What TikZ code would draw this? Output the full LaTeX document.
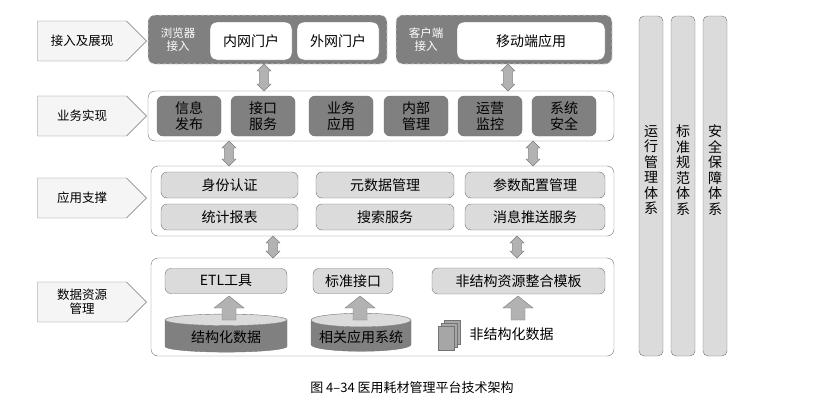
\documentclass[tikz,border=0pt]{standalone}
\usepackage{fontspec}
\setmainfont{Noto Sans CJK SC}
\newfontfamily\capfont{Noto Sans CJK SC}
\usetikzlibrary{shapes.arrows,shapes.geometric,shapes.symbols}
\definecolor{dk}{gray}{0.5}
\definecolor{lt}{gray}{0.86}
\definecolor{ar}{gray}{0.7}
\definecolor{ln}{gray}{0.45}
\tikzset{
 lab/.style={signal, signal to=east, draw=ln, fill=gray!8, minimum width=109pt, minimum height=40pt, font=\fontsize{12.5}{14}\selectfont, inner sep=1pt},
 cont/.style={draw=ln, rounded corners=7pt, fill=white},
 grp/.style={draw=gray!30, dashed, line width=0.8pt, rounded corners=7pt, fill=dk},
 wbox/.style={draw=ln, rounded corners=7pt, fill=white, font=\fontsize{14}{15}\selectfont},
 dbox/.style={draw=ln, rounded corners=6pt, fill=dk, font=\fontsize{14}{16}\selectfont, align=center},
 lbox/.style={draw=ln, rounded corners=6pt, fill=lt, font=\fontsize{14}{15}\selectfont},
 darr/.style={double arrow, fill=ar, draw=ar!70!black, minimum width=14pt, double arrow head extend=1pt, inner sep=1.5pt, rotate=90, minimum height=#1},
 bar/.style={draw=ln, rounded corners=5pt, fill=lt},
 cyl/.style={cylinder, shape border rotate=90, draw=ln, cylinder uses custom fill, cylinder body fill=dk, cylinder end fill=lt, aspect=0.15, font=\fontsize{14}{15}\selectfont},
}
\newcommand{\uparrowat}[2]{%
 \fill[ar, draw=ar!70!black] (#1-7,#2+12) -- (#1-7,#2) -- (#1-15,#2) -- (#1,#2-12) -- (#1+15,#2) -- (#1+7,#2) -- (#1+7,#2+12) -- cycle;}
\begin{document}
\begin{tikzpicture}[x=1pt,y=-1pt]
\useasboundingbox (0,0) rectangle (824,410);
% left labels
\node[lab] (l1) at (82,41) {接入及展现};
\node[lab] (l2) at (82,116) {业务实现};
\node[lab] (l3) at (82,198) {应用支撑};
\node[lab, align=center] (l4) at (82,302) {数据资源\\管理};
% row 1
\draw[grp] (148,15) rectangle (387,64);
\draw[grp] (396,15) rectangle (612,64);
\node[font=\fontsize{11.5}{13}\selectfont, align=center, text=white] (t1) at (178,40) {浏览器\\接入};
\node[font=\fontsize{11.5}{13}\selectfont, align=center, text=white] (t2) at (426,40) {客户端\\接入};
\node[wbox, minimum width=82pt, minimum height=38pt] (nw) at (251,41) {内网门户};
\node[wbox, minimum width=82pt, minimum height=38pt] (ww) at (338,41) {外网门户};
\node[wbox, minimum width=148pt, minimum height=38pt] (yd) at (531,41) {移动端应用};
% row 2
\node[cont, minimum width=466pt, minimum height=50pt] (c2) at (381,116) {};
\foreach \x/\t [count=\i] in {189/信息\\发布,263/接口\\服务,341/业务\\应用,416/内部\\管理,490/运营\\监控,564/系统\\安全}
  \node[dbox, minimum width=64pt, minimum height=40pt] (b\i) at (\x,116) {\t};
% row 3
\node[cont, minimum width=463pt, minimum height=70pt] (c3) at (382.5,201) {};
\node[lbox, minimum width=137pt, minimum height=26pt] (s1) at (229.5,185) {身份认证};
\node[lbox, minimum width=138pt, minimum height=26pt] (s2) at (385,185) {元数据管理};
\node[lbox, minimum width=140pt, minimum height=26pt] (s3) at (535,185) {参数配置管理};
\node[lbox, minimum width=137pt, minimum height=26pt] (s4) at (229.5,217) {统计报表};
\node[lbox, minimum width=138pt, minimum height=26pt] (s5) at (385,217) {搜索服务};
\node[lbox, minimum width=140pt, minimum height=26pt] (s6) at (535,217) {消息推送服务};
% row 4
\node[cont, minimum width=463pt, minimum height=98pt] (c4) at (382.5,307) {};
\node[lbox, minimum width=122pt, minimum height=25pt] (e1) at (226,281) {ETL工具};
\node[lbox, minimum width=80pt, minimum height=25pt] (e2) at (353,281) {标准接口};
\node[lbox, minimum width=173pt, minimum height=26pt] (e3) at (518.5,281) {非结构资源整合模板};
\node[cyl, minimum width=122pt, minimum height=38pt] (d1) at (226,337) {\raisebox{-4pt}{结构化数据}};
\node[cyl, minimum width=100pt, minimum height=38pt] (d2) at (361,337) {\raisebox{-4pt}{相关应用系统}};
\uparrowat{229}{308}
\uparrowat{360}{308}
\uparrowat{518}{308}
\foreach \o in {6,3,0} \draw[draw=ln, fill=dk!70!white] (438+\o,326-\o) rectangle (454+\o,350-\o);
\node[font=\fontsize{14}{15}\selectfont, anchor=west] (e4) at (466,334) {非结构化数据};
% double arrows
\node[darr=27pt] (a1) at (264,77.5) {};
\node[darr=27pt] (a2) at (508,77.5) {};
\node[darr=25pt] (a3) at (229,153.5) {};
\node[darr=25pt] (a4) at (533,153.5) {};
\node[darr=22pt] (a5) at (273,247) {};
\node[darr=22pt] (a6) at (517,247) {};
% vertical bars
\foreach \x/\t [count=\i] in {651/运\\行\\管\\理\\体\\系,683/标\\准\\规\\范\\体\\系,715/安\\全\\保\\障\\体\\系}{
  \node[bar, minimum width=24pt, minimum height=340pt] (v\i) at (\x,186) {};
  \node[align=center, font=\fontsize{14}{15.5}\selectfont] (vt\i) at (\x,170) {\t};
}
% caption
\node[font=\capfont\fontsize{13}{14}\selectfont] (cap) at (412,388) {图 4–34 医用耗材管理平台技术架构};
\end{tikzpicture}
\end{document}
